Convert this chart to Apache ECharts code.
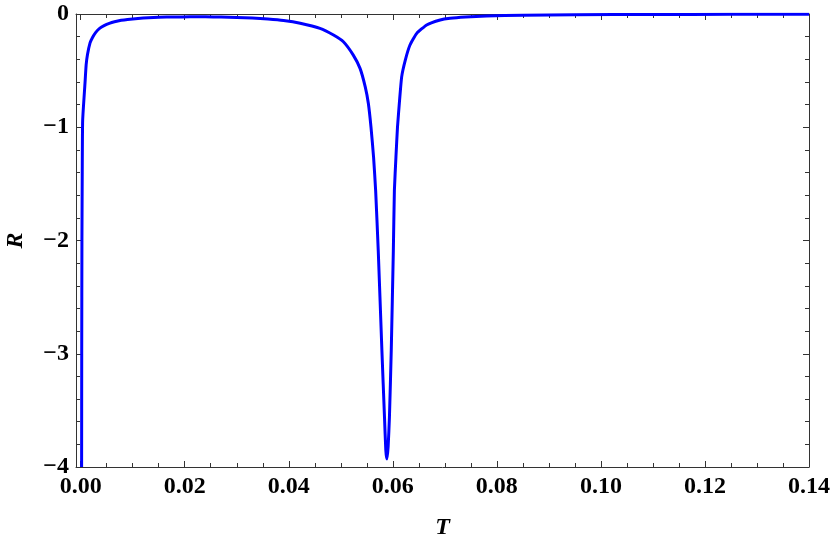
<!DOCTYPE html>
<html lang="en">
<head>
<meta charset="utf-8">
<title>R vs T</title>
<script src="https://cdn.jsdelivr.net/npm/echarts@6.0.0/dist/echarts.min.js"></script>
<style>
  html, body { margin: 0; padding: 0; background: #fff; }
  #main { width: 830px; height: 542px; }
</style>
</head>
<body>
<div id="main"></div>
<script type="text/javascript">
    // values
    let tValues = [0.00018, 0.0002, 0.00024, 0.0003, 0.00038, 0.00083, 0.00105, 0.0013, 0.0018, 0.0023,
        0.0029, 0.0037, 0.0045, 0.0055, 0.0065, 0.0078, 0.009, 0.011, 0.013, 0.015,
        0.018, 0.021, 0.024, 0.027, 0.030, 0.033, 0.036, 0.039, 0.0422, 0.046,
        0.0486, 0.0505, 0.0524, 0.0537, 0.0547, 0.0553, 0.0558, 0.0563, 0.0567, 0.0572,
        0.0579, 0.0584, 0.05865, 0.05885, 0.0591, 0.05935, 0.0597, 0.0601, 0.0603, 0.0606,
        0.0609, 0.0613, 0.0617, 0.0624, 0.0633, 0.0646, 0.0665, 0.0691, 0.071, 0.074,
        0.078, 0.085, 0.095, 0.11, 0.125, 0.14];
    let rValues = [-4.0, -3.0, -2.0, -1.4, -0.94, -0.61, -0.45, -0.36, -0.255, -0.205,
        -0.162, -0.125, -0.103, -0.083, -0.069, -0.056, -0.048, -0.039, -0.033, -0.029,
        -0.026, -0.025, -0.025, -0.027, -0.030, -0.036, -0.045, -0.058, -0.082, -0.127,
        -0.186, -0.245, -0.363, -0.48, -0.643, -0.79, -0.997, -1.263, -1.56, -2.09,
        -2.97, -3.56, -3.85, -3.93, -3.82, -3.56, -2.97, -2.09, -1.56, -1.263,
        -0.997, -0.761, -0.555, -0.407, -0.274, -0.171, -0.097, -0.053, -0.038, -0.027,
        -0.018, -0.011, -0.007, -0.004, -0.003, -0.002];

    let xMajorTicks = [0, 0.02, 0.04, 0.06, 0.08, 0.10, 0.12, 0.14];
    let xMinorTicks = [];
    for (let i = 0; i < 28; i++) {
        if (i % 4 !== 0) xMinorTicks.push(+(i * 0.005).toFixed(3));
    }

    let seriesData = [];
    tValues.forEach((t, i) => { seriesData.push([t, rValues[i]]) });

    const frameColor = '#333';
    const serifFont = "'Liberation Serif', 'Times New Roman', serif";
    const labelFont = {
        fontFamily: serifFont,
        fontWeight: 'bold',
        fontSize: 24,
        color: '#000'
    };
    const nameFont = {
        fontFamily: serifFont,
        fontWeight: 'bold',
        fontStyle: 'italic',
        fontSize: 24,
        color: '#000'
    };

    function xAxisDef(position, ticks, len, withLine) {
        return {
            type: 'value',
            position: position,
            min: -0.0009,
            max: 0.14,
            axisLine: { show: withLine, onZero: false, lineStyle: { color: frameColor, width: 1 } },
            axisTick: { show: true, inside: true, length: len, customValues: ticks,
                lineStyle: { color: frameColor, width: 1 } },
            axisLabel: withLine && position === 'bottom'
                ? Object.assign({ show: true, margin: 8, customValues: xMajorTicks,
                    formatter: (v) => v.toFixed(2) }, labelFont)
                : { show: false },
            splitLine: { show: false }
        };
    }

    function yAxisDef(position, withLabels) {
        return {
            type: 'value',
            position: position,
            min: -4,
            max: 0,
            interval: 1,
            axisLine: { show: true, onZero: false, lineStyle: { color: frameColor, width: 1 } },
            axisTick: { show: true, inside: true, length: 6, lineStyle: { color: frameColor, width: 1 } },
            minorTick: { show: true, splitNumber: 5, length: 4, lineStyle: { color: frameColor, width: 1 } },
            axisLabel: withLabels
                ? Object.assign({ show: true, margin: 7,
                    formatter: (v) => v === 0 ? '0' : '\u2212' + Math.abs(v) }, labelFont)
                : { show: false },
            splitLine: { show: false }
        };
    }

    let xBottom = xAxisDef('bottom', xMajorTicks, 6, true);
    xBottom.name = 'T';
    xBottom.nameLocation = 'middle';
    xBottom.nameGap = 49;
    xBottom.nameTextStyle = nameFont;

    let yLeft = yAxisDef('left', true);
    yLeft.name = 'R';
    yLeft.nameLocation = 'middle';
    yLeft.nameGap = 48;
    yLeft.nameTextStyle = nameFont;

    let Chart = echarts.init(document.getElementById('main'), null, { renderer: 'canvas' });

    let option = {
        animation: false,
        grid: { left: 76, right: 21, top: 14, bottom: 75, containLabel: false, outerBoundsMode: 'none' },
        xAxis: [
            xBottom,
            xAxisDef('bottom', xMinorTicks, 4, false),
            xAxisDef('top', xMajorTicks, 6, true),
            xAxisDef('top', xMinorTicks, 4, false)
        ],
        yAxis: [
            yLeft,
            yAxisDef('right', false)
        ],
        series: [{
            type: 'line',
            xAxisIndex: 0,
            yAxisIndex: 0,
            data: seriesData,
            showSymbol: false,
            smooth: 0.15,
            clip: true,
            lineStyle: { color: '#0000ff', width: 3 }
        }]
    };

    Chart.setOption(option);
</script>
</body>
</html>
